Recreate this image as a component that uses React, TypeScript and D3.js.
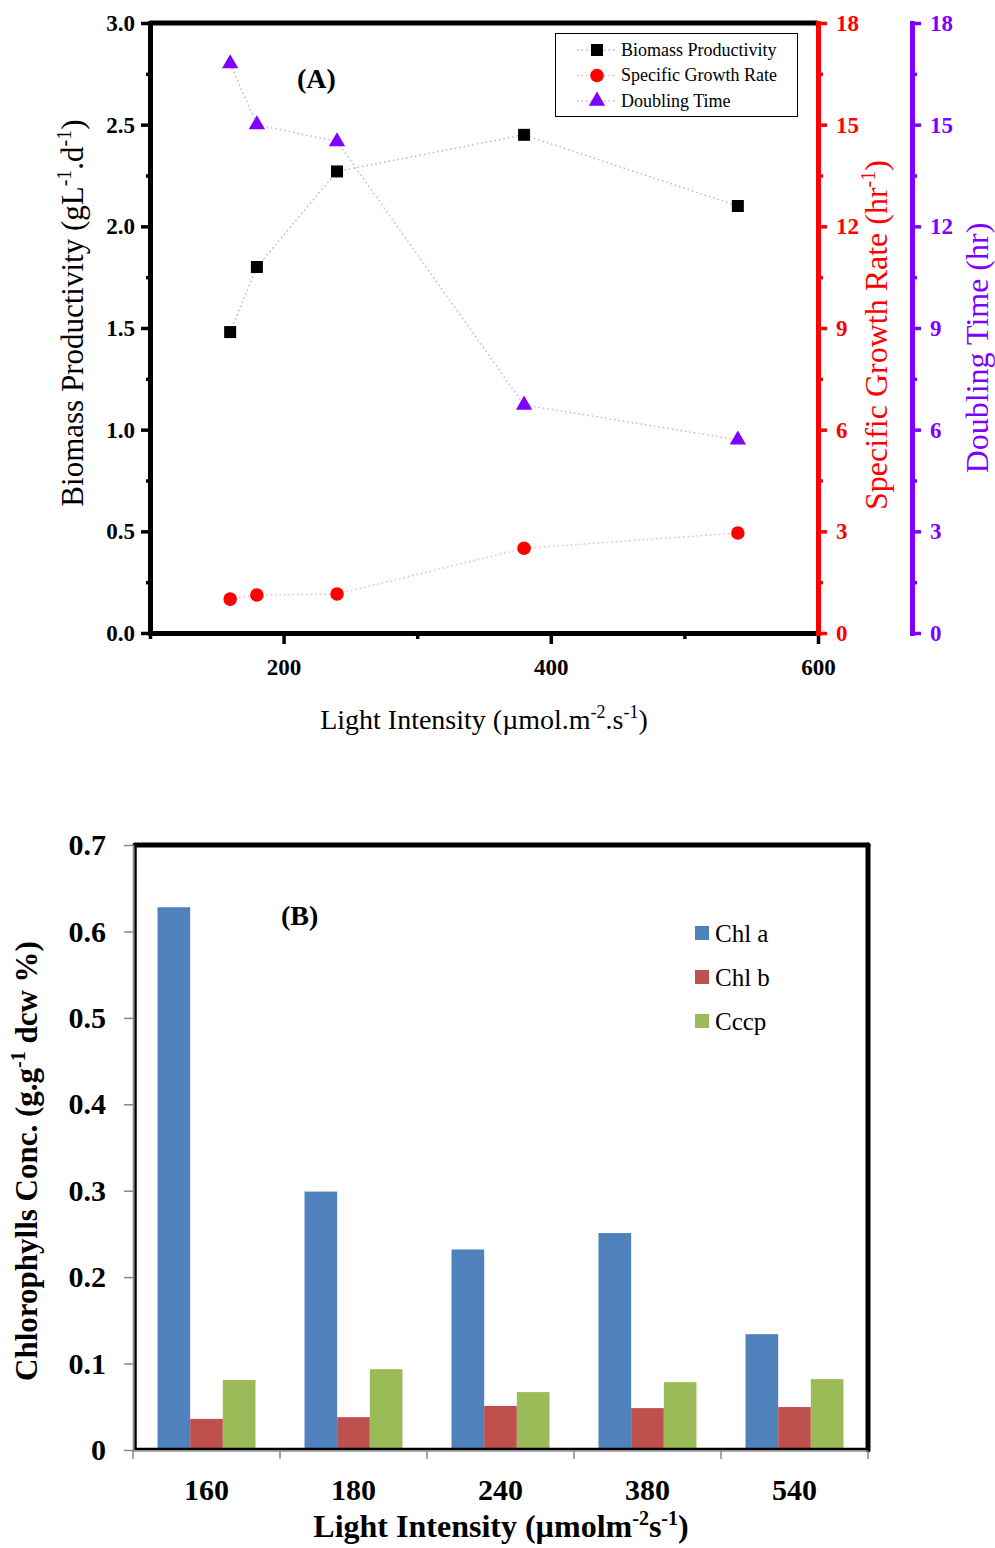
import React, { useEffect, useRef } from 'react';
import * as d3 from 'd3';

const W = 995;
const H = 1548;
const FONT = '"Liberation Serif", "Times New Roman", serif';
const red = '#ff0000';
const purple = '#8000ff';

// panel A
const lightA = [160, 180, 240, 380, 540];
const biomass = [1.48, 1.8, 2.27, 2.45, 2.1];
const growthRate = [1.0, 1.12, 1.15, 2.5, 2.95];
const doublingTime = [16.8, 15.0, 14.5, 6.73, 5.7];
const xMajorA = [200, 400, 600];
const xMinorA = [100, 300, 500];
const yMajorA = [0, 0.5, 1, 1.5, 2, 2.5, 3];
const yMinorA = [0.25, 0.75, 1.25, 1.75, 2.25, 2.75];
const rMajorA = [0, 3, 6, 9, 12, 15, 18];
const rMinorA = [1.5, 4.5, 7.5, 10.5, 13.5, 16.5];

// panel B
const lightB = ['160', '180', '240', '380', '540'];
const pigments = ['Chl a', 'Chl b', 'Cccp'];
const chlA = [0.628, 0.299, 0.232, 0.251, 0.134];
const chlB = [0.036, 0.038, 0.051, 0.0485, 0.0497];
const cccp = [0.081, 0.0935, 0.067, 0.0785, 0.082];
const yTicksB = [0, 0.1, 0.2, 0.3, 0.4, 0.5, 0.6, 0.7];
const barColors = ['#4f81bd', '#c0504d', '#9bbb59'];

const mA = { left: 150, right: 818, top: 23, bottom: 633 };
const purpleX = 912;
const xA = d3.scaleLinear().domain([100, 600]).range([mA.left, mA.right]);
const yA = d3.scaleLinear().domain([0, 3]).range([mA.bottom, mA.top]);
const yR = d3.scaleLinear().domain([0, 18]).range([mA.bottom, mA.top]);

const mB = { left: 133, right: 868, top: 845, bottom: 1450 };
const xB = d3.scaleBand().domain(lightB).range([mB.left, mB.right]);
const xInner = d3.scaleBand().domain(pigments).range([0, xB.bandwidth()]).paddingInner(0).paddingOuter(0.75);
const yB = d3.scaleLinear().domain([0, 0.7]).range([mB.bottom, mB.top]);

function styleAxis(g: any, color: string, size: number, bold: boolean, lineW: number, tickW: number) {
  g.select('.domain').attr('stroke', color).attr('stroke-width', lineW).attr('stroke-linecap', 'square');
  g.selectAll('.tick line').attr('stroke', color).attr('stroke-width', tickW);
  g.selectAll('.tick text')
    .attr('fill', color)
    .style('font-family', FONT)
    .style('font-size', size + 'px')
    .style('font-weight', bold ? 'bold' : 'normal');
}

export default function App() {
  const xAxA = useRef<SVGGElement>(null);
  const xAxAmin = useRef<SVGGElement>(null);
  const yAxA = useRef<SVGGElement>(null);
  const yAxAmin = useRef<SVGGElement>(null);
  const rAx = useRef<SVGGElement>(null);
  const rAxMin = useRef<SVGGElement>(null);
  const pAx = useRef<SVGGElement>(null);
  const pAxMin = useRef<SVGGElement>(null);
  const yAxB = useRef<SVGGElement>(null);
  const xAxB = useRef<SVGGElement>(null);

  useEffect(() => {
    let g: any = d3.select(xAxAmin.current).call(d3.axisBottom(xA).tickValues(xMinorA).tickSize(6).tickSizeOuter(0).tickFormat(() => ''));
    styleAxis(g, '#000', 23, true, 5, 3.5);
    g = d3.select(xAxA.current).call(d3.axisBottom(xA).tickValues(xMajorA).tickSize(11).tickSizeOuter(0).tickPadding(15).tickFormat(d3.format('d')));
    styleAxis(g, '#000', 23, true, 5, 3.5);

    g = d3.select(yAxAmin.current).call(d3.axisLeft(yA).tickValues(yMinorA).tickSize(4).tickSizeOuter(0).tickFormat(() => ''));
    styleAxis(g, '#000', 23, true, 5, 3.5);
    g = d3.select(yAxA.current).call(d3.axisLeft(yA).tickValues(yMajorA).tickSize(9).tickSizeOuter(0).tickPadding(6).tickFormat(d3.format('.1f')));
    styleAxis(g, '#000', 23, true, 5, 3.5);

    g = d3.select(rAxMin.current).call(d3.axisRight(yR).tickValues(rMinorA).tickSize(5).tickSizeOuter(0).tickFormat(() => ''));
    styleAxis(g, red, 23, true, 5, 3.5);
    g = d3.select(rAx.current).call(d3.axisRight(yR).tickValues(rMajorA).tickSize(9).tickSizeOuter(0).tickPadding(9).tickFormat(d3.format('d')));
    styleAxis(g, red, 23, true, 5, 3.5);

    g = d3.select(pAxMin.current).call(d3.axisRight(yR).tickValues(rMinorA).tickSize(5).tickSizeOuter(0).tickFormat(() => ''));
    styleAxis(g, purple, 23, true, 5, 3.5);
    g = d3.select(pAx.current).call(d3.axisRight(yR).tickValues(rMajorA).tickSize(9).tickSizeOuter(0).tickPadding(9).tickFormat(d3.format('d')));
    styleAxis(g, purple, 23, true, 5, 3.5);

    g = d3.select(yAxB.current).call(d3.axisLeft(yB).tickValues(yTicksB).tickSize(9).tickSizeOuter(0).tickPadding(18).tickFormat(d3.format('~g')));
    styleAxis(g, '#888', 30, true, 1.5, 1.5);
    g.selectAll('.tick text').attr('fill', '#000');

    g = d3.select(xAxB.current).call(d3.axisBottom(xB).tickSize(0).tickPadding(28));
    styleAxis(g, '#000', 30, true, 0, 0);
    g.select('.domain').remove();
  }, []);

  const lineA = (vals: number[], y: any) =>
    d3.line<number>().x((_, i) => xA(lightA[i])).y((d) => y(d))(vals) || '';

  const tri = d3.symbol().type(d3.symbolTriangle).size(115)() || '';
  const series = [chlA, chlB, cccp];
  const legA = [
    { name: 'Biomass Productivity', color: '#000', dash: '#bbbbbb', kind: 'sq' },
    { name: 'Specific Growth Rate', color: red, dash: '#ffb4b4', kind: 'ci' },
    { name: 'Doubling Time', color: purple, dash: '#cfaaff', kind: 'tr' },
  ];
  const marker = (kind: string, color: string, x: number, y: number, key: any) => {
    if (kind === 'sq') return <rect key={key} x={x - 6} y={y - 6} width={12} height={12} fill={color} />;
    if (kind === 'ci') return <circle key={key} cx={x} cy={y} r={6.8} fill={color} />;
    return <path key={key} d={tri} transform={`translate(${x},${y})`} fill={color} />;
  };
  const sup = (s: string, size: number, up: number) => (
    <tspan dy={-up} fontSize={size}>{s}</tspan>
  );

  return (
    <svg width={W} height={H} style={{ position: 'absolute', left: 0, top: 0, background: '#fff' }} fontFamily={FONT}>
      {/* ---------- panel A ---------- */}
      <line x1={mA.left} x2={mA.right} y1={mA.top} y2={mA.top} stroke="#000" strokeWidth={5} />
      <g ref={xAxAmin} transform={`translate(0,${mA.bottom})`} />
      <g ref={xAxA} transform={`translate(0,${mA.bottom})`} />
      <g ref={yAxAmin} transform={`translate(${mA.left},0)`} />
      <g ref={yAxA} transform={`translate(${mA.left},0)`} />
      <g ref={rAxMin} transform={`translate(${mA.right},0)`} />
      <g ref={rAx} transform={`translate(${mA.right},0)`} />
      <g ref={pAxMin} transform={`translate(${purpleX},0)`} />
      <g ref={pAx} transform={`translate(${purpleX},0)`} />

      <path d={lineA(biomass, yA)} fill="none" stroke="#bbbbbb" strokeWidth={1.5} strokeDasharray="1.5,3" />
      <path d={lineA(growthRate, yR)} fill="none" stroke="#ffb4b4" strokeWidth={1.5} strokeDasharray="1.5,3" />
      <path d={lineA(doublingTime, yR)} fill="none" stroke="#cfaaff" strokeWidth={1.5} strokeDasharray="1.5,3" />
      {biomass.map((v, i) => marker('sq', '#000', xA(lightA[i]), yA(v), 'b' + i))}
      {growthRate.map((v, i) => marker('ci', red, xA(lightA[i]), yR(v), 'g' + i))}
      {doublingTime.map((v, i) => marker('tr', purple, xA(lightA[i]), yR(v), 'd' + i))}

      <text x={297} y={88} fontSize={28} fontWeight="bold">(A)</text>

      <rect x={555.5} y={33.5} width={242} height={83} fill="#fff" stroke="#000" strokeWidth={1} />
      {legA.map((d, i) => {
        const cy = 50 + i * 25.5;
        return (
          <g key={d.name}>
            <line x1={577} x2={617} y1={cy} y2={cy} stroke={d.dash} strokeWidth={1.5} strokeDasharray="1.5,3" />
            {marker(d.kind, d.color, 597, cy, 'm')}
            <text x={621} y={cy} dy="0.33em" fontSize={18}>{d.name}</text>
          </g>
        );
      })}

      <text transform="translate(83,313) rotate(-90)" textAnchor="middle" fontSize={31}>
        Biomass Productivity (gL{sup('-1', 20, 12)}<tspan dy={12}>.d</tspan>{sup('-1', 20, 12)}<tspan dy={12}>)</tspan>
      </text>
      <text transform="translate(887,335) rotate(-90)" textAnchor="middle" fontSize={32} fill={red}>
        Specific Growth Rate (hr{sup('-1', 20, 12)}<tspan dy={12}>)</tspan>
      </text>
      <text transform="translate(988,348) rotate(-90)" textAnchor="middle" fontSize={32} fill={purple}>
        Doubling Time (hr)
      </text>
      <text x={484} y={729} textAnchor="middle" fontSize={28}>
        Light Intensity (µmol.m{sup('-2', 18, 11)}<tspan dy={11}>.s</tspan>{sup('-1', 18, 11)}<tspan dy={11}>)</tspan>
      </text>

      {/* ---------- panel B ---------- */}
      {lightB.map((c, i) => (
        <g key={c} transform={`translate(${xB(c)},0)`}>
          {pigments.map((p, j) => (
            <rect key={p} x={xInner(p)} y={yB(series[j][i])} width={xInner.bandwidth()} height={yB(0) - yB(series[j][i])} fill={barColors[j]} />
          ))}
        </g>
      ))}
      <line x1={mB.left + 2} x2={mB.right} y1={mB.top} y2={mB.top} stroke="#000" strokeWidth={5} strokeLinecap="round" />
      <line x1={mB.right} x2={mB.right} y1={mB.top} y2={mB.bottom} stroke="#000" strokeWidth={5} strokeLinecap="round" />
      <line x1={mB.left + 2.5} x2={mB.left + 2.5} y1={mB.top} y2={mB.bottom} stroke="#000" strokeWidth={2.5} />
      <line x1={mB.left + 2} x2={mB.right} y1={mB.bottom - 1} y2={mB.bottom - 1} stroke="#000" strokeWidth={2.5} />
      <g ref={yAxB} transform={`translate(${mB.left},0)`} />
      <line x1={mB.left} x2={mB.right} y1={mB.bottom + 1} y2={mB.bottom + 1} stroke="#888" strokeWidth={1.5} />
      {[...lightB.map((c) => xB(c) as number), mB.right].map((x, i) => (
        <line key={i} x1={x} x2={x} y1={mB.bottom + 1} y2={mB.bottom + 9} stroke="#888" strokeWidth={1.5} />
      ))}
      <g ref={xAxB} transform={`translate(0,${mB.bottom + 1})`} />

      <text x={281} y={925} fontSize={28} fontWeight="bold">(B)</text>
      {pigments.map((p, j) => (
        <g key={p}>
          <rect x={695} y={926 + j * 44} width={14} height={14} fill={barColors[j]} />
          <text x={715} y={933 + j * 44} dy="0.35em" fontSize={25}>{p}</text>
        </g>
      ))}

      <text transform="translate(37,1161) rotate(-90)" textAnchor="middle" fontSize={31} fontWeight="bold">
        Chlorophylls Conc. (g.g{sup('-1', 20, 12)}<tspan dy={12}> dcw %)</tspan>
      </text>
      <text x={501} y={1537} textAnchor="middle" fontSize={32} fontWeight="bold">
        Light Intensity (µmolm{sup('-2', 20, 12)}<tspan dy={12}>s</tspan>{sup('-1', 20, 12)}<tspan dy={12}>)</tspan>
      </text>
    </svg>
  );
}
